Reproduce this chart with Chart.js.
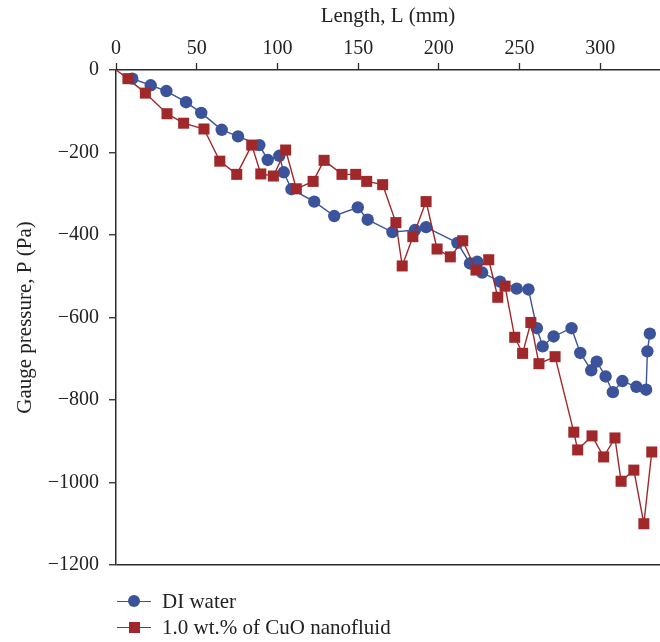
<!DOCTYPE html>
<html>
<head>
<meta charset="utf-8">
<script src="https://cdn.jsdelivr.net/npm/chart.js@4"></script>
<style>
  body { margin: 0; background: #fff; }
  #wrap { position: relative; width: 660px; height: 642px; }
  .legend { position: absolute; left: 117px; font-family: "Liberation Serif", serif; font-size: 21px; line-height: 24px; color: #222; display: flex; align-items: center; }
  .legend .sample { position: relative; width: 34px; height: 12px; margin-right: 11px; }
  .legend .sample .ln { position: absolute; left: 0; right: 0; top: 5.5px; height: 1.4px; }
  .legend .sample .mk { position: absolute; left: 11px; top: 0; width: 12px; height: 12px; }
</style>
</head>
<body>
<div id="wrap">
  <canvas id="chart-pressure" width="660" height="642"></canvas>
  <div class="legend" style="top: 589px;">
    <span class="sample"><span class="ln" style="background:#3a539b"></span><span class="mk" style="background:#3a539b;border-radius:50%"></span></span>
    <span>DI water</span>
  </div>
  <div class="legend" style="top: 615px;">
    <span class="sample"><span class="ln" style="background:#a0282b"></span><span class="mk" style="background:#a0282b;left:11.5px;top:0.5px;width:11px;height:11px"></span></span>
    <span>1.0 wt.% of CuO nanofluid</span>
  </div>
</div>
<script>
// length (mm) and gauge pressure (Pa)
const waterLength = [10.1, 21.5, 31.2, 43.4, 52.8, 65.5, 75.6, 88.8, 94.0, 101.2, 103.9, 108.7,
  122.8, 135.2, 149.8, 155.9, 171.2, 185.2, 192.1, 211.5, 219.3, 223.8, 226.8, 237.9, 248.2,
  255.5, 260.7, 264.3, 271.1, 282.2, 287.6, 294.4, 297.8, 303.3, 307.8, 313.7, 322.4, 328.4,
  329.2, 330.7];
const waterPressure = [-21, -37, -51, -78, -104, -145, -161, -182, -218, -208, -248, -289,
  -319, -354, -333, -363, -393, -388, -381, -419, -469, -465, -491, -513, -530,
  -532, -626, -670, -646, -626, -686, -728, -707, -743, -781, -754, -768, -775,
  -682, -639];

const cuoLength = [0, 7.4, 18.2, 31.6, 41.9, 54.5, 64.3, 74.8, 84.1, 89.7, 97.5, 105.1, 111.7,
  122.1, 128.9, 140.0, 148.5, 155.3, 165.2, 173.4, 177.3, 183.9, 192.1, 198.9, 207.1,
  214.8, 223.0, 230.9, 236.5, 241.0, 247.0, 251.9, 257.0, 262.0, 272.0, 283.6, 286.0,
  294.9, 302.1, 309.1, 312.9, 320.8, 327.0, 331.9];
const cuoPressure = [0, -21, -56, -106, -129, -143, -221, -253, -182, -252, -257, -194, -288,
  -270, -219, -253, -253, -270, -278, -370, -475, -404, -319, -434, -453,
  -414, -485, -460, -551, -524, -648, -687, -612, -712, -695, -878, -921,
  -887, -938, -892, -997, -970, -1100, -926];

const xTicks = [0, 50, 100, 150, 200, 250, 300];
const yTicks = [0, -200, -400, -600, -800, -1000, -1200];

const serif = "'Liberation Serif', 'DejaVu Serif', serif";
const axisColor = "#2b2b2b";

function toPoints(xs, ys) {
  return xs.map((x, i) => ({ x: x, y: ys[i] }));
}

const ctxPressure = document.getElementById("chart-pressure");

new Chart(ctxPressure, {
  type: "line",
  data: {
    datasets: [
      {
        label: "DI water",
        data: toPoints(waterLength, waterPressure),
        borderColor: "#3a539b",
        backgroundColor: "#3a539b",
        borderWidth: 1.4,
        pointStyle: "circle",
        pointRadius: 6.2,
        pointBorderWidth: 0,
        tension: 0,
        order: 1,
      },
      {
        label: "1.0 wt.% of CuO nanofluid",
        data: toPoints(cuoLength, cuoPressure),
        borderColor: "#a0282b",
        backgroundColor: "#a0282b",
        borderWidth: 1.4,
        pointStyle: "rect",
        // first point sits on the origin without a marker
        pointRadius: cuoLength.map((v, i) => (i === 0 ? 0 : 7.8)),
        pointBorderWidth: 0,
        tension: 0,
        order: 0,
      },
    ],
  },
  options: {
    responsive: false,
    animation: false,
    devicePixelRatio: 1,
    layout: { autoPadding: false, padding: { left: 0, right: 0, top: 0, bottom: 77 } },
    plugins: {
      legend: { display: false },
      tooltip: { enabled: false },
    },
    scales: {
      x: {
        type: "linear",
        position: "top",
        min: 0,
        max: 337,
        afterBuildTicks: (scale) => {
          scale.ticks = xTicks.map((v) => ({ value: v }));
        },
        afterFit: (scale) => {
          scale.height = 70;
          scale.paddingLeft = 0;
          scale.paddingRight = 0;
        },
        ticks: {
          includeBounds: false,
          padding: 2,
          color: "#222",
          font: { family: serif, size: 20 },
        },
        grid: {
          drawOnChartArea: false,
          drawTicks: true,
          tickLength: 7,
          tickColor: axisColor,
          tickWidth: 1.3,
        },
        border: { display: true, color: axisColor, width: 1.5 },
        title: {
          display: true,
          text: "Length, L (mm)",
          color: "#222",
          font: { family: serif, size: 21 },
          padding: { top: 4, bottom: 0 },
        },
      },
      y: {
        type: "linear",
        position: "left",
        min: -1200,
        max: 0,
        afterBuildTicks: (scale) => {
          scale.ticks = yTicks.map((v) => ({ value: v }));
        },
        afterFit: (scale) => {
          scale.width = 116;
        },
        ticks: {
          padding: 10,
          color: "#222",
          font: { family: serif, size: 20 },
          callback: (v) => (v < 0 ? "\u2212" + Math.abs(v) : String(v)),
        },
        grid: {
          drawOnChartArea: true,
          // only the bottom line closes the frame
          color: (c) => (c.tick && c.tick.value === -1200 ? axisColor : "rgba(0,0,0,0)"),
          lineWidth: 1.5,
          drawTicks: true,
          tickLength: 7,
          tickColor: axisColor,
          tickWidth: 1.3,
        },
        border: { display: true, color: axisColor, width: 1.5 },
        title: {
          display: true,
          text: "Gauge pressure, P (Pa)",
          color: "#222",
          font: { family: serif, size: 21 },
          padding: { top: 13, bottom: 0 },
        },
      },
    },
  },
});
</script>
</body>
</html>
